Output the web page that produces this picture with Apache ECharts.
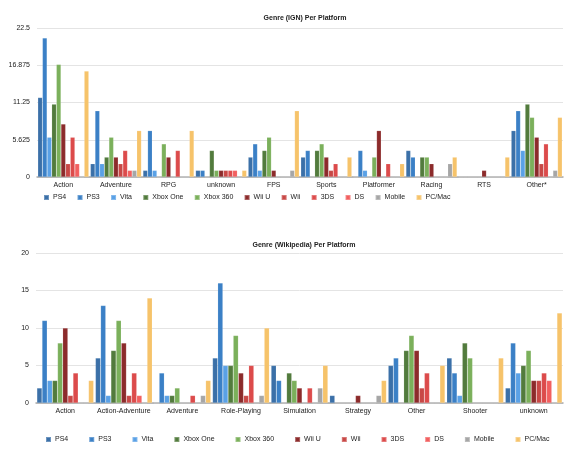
<!DOCTYPE html>
<html><head><meta charset="utf-8">
<script src="https://cdn.jsdelivr.net/npm/echarts@6/dist/echarts.min.js"></script>
<style>html,body{margin:0;padding:0;background:#fff}#c{width:580px;height:456px}</style>
</head><body><div id="c"></div>
<script>
var platforms = ['PS4','PS3','Vita','Xbox One','Xbox 360','Wii U','Wii','3DS','DS','Mobile','PC/Mac'];
var colors = ['#3b70a8','#3b80c6','#5aa1e6','#527b3d','#7bb05b','#8c2b2b','#c84846','#dc4b4b','#f25f5f','#a6a6a6','#f6c36a'];

var ignCategories = ['Action','Adventure','RPG','unknown','FPS','Sports','Platformer','Racing','RTS','Other*'];
var ignTicks = [0, 5.625, 11.25, 16.875, 22.5];
var ignPS4    = [12, 2, 1, 1, 3, 3, 0, 4, 0, 7];
var ignPS3    = [21,10, 7, 1, 5, 4, 4, 3, 0,10];
var ignVita   = [ 6, 2, 1, 0, 1, 0, 1, 0, 0, 4];
var ignXOne   = [11, 3, 0, 4, 4, 4, 0, 3, 0,11];
var ignX360   = [17, 6, 5, 1, 6, 5, 3, 3, 0, 9];
var ignWiiU   = [ 8, 3, 3, 1, 1, 3, 7, 2, 1, 6];
var ignWii    = [ 2, 2, 0, 1, 0, 1, 0, 0, 0, 2];
var ign3DS    = [ 6, 4, 4, 1, 0, 2, 2, 0, 0, 5];
var ignDS     = [ 2, 1, 0, 1, 0, 0, 0, 0, 0, 0];
var ignMobile = [ 0, 1, 0, 0, 1, 0, 0, 2, 0, 1];
var ignPC     = [16, 7, 7, 1,10, 3, 2, 3, 3, 9];

var wikiCategories = ['Action','Action-Adventure','Adventure','Role-Playing','Simulation','Strategy','Other','Shooter','unknown'];
var wikiTicks = [0, 5, 10, 15, 20];
var wikiPS4    = [ 2, 6, 0, 6, 5, 1, 5, 6, 2];
var wikiPS3    = [11,13, 4,16, 3, 0, 6, 4, 8];
var wikiVita   = [ 3, 1, 1, 5, 0, 0, 0, 1, 4];
var wikiXOne   = [ 3, 7, 1, 5, 4, 0, 7, 8, 5];
var wikiX360   = [ 8,11, 2, 9, 3, 0, 9, 6, 7];
var wikiWiiU   = [10, 8, 0, 4, 2, 1, 7, 0, 3];
var wikiWii    = [ 1, 1, 0, 1, 0, 0, 2, 0, 3];
var wiki3DS    = [ 4, 4, 1, 5, 2, 0, 4, 0, 4];
var wikiDS     = [ 0, 1, 0, 0, 0, 0, 0, 0, 3];
var wikiMobile = [ 0, 0, 1, 1, 2, 1, 0, 0, 0];
var wikiPC     = [ 3,14, 3,10, 5, 3, 5, 6,12];

var ignData = [ignPS4,ignPS3,ignVita,ignXOne,ignX360,ignWiiU,ignWii,ign3DS,ignDS,ignMobile,ignPC];
var wikiData = [wikiPS4,wikiPS3,wikiVita,wikiXOne,wikiX360,wikiWiiU,wikiWii,wiki3DS,wikiDS,wikiMobile,wikiPC];

var FONT = '"Liberation Sans", Helvetica, Arial, sans-serif';
var series = [];
platforms.forEach(function(p, i){
  series.push({name:p, type:'bar', xAxisIndex:0, yAxisIndex:0, data:ignData[i], barGap:'0%', barCategoryGap:'3%',
    itemStyle:{color:colors[i], borderColor:'rgba(255,255,255,0.25)', borderWidth:0.5}, silent:true, animation:false});
});
platforms.forEach(function(p, i){
  series.push({name:p, type:'bar', xAxisIndex:1, yAxisIndex:1, data:wikiData[i], barGap:'0%', barCategoryGap:'3%',
    itemStyle:{color:colors[i], borderColor:'rgba(255,255,255,0.25)', borderWidth:0.5}, silent:true, animation:false});
});

function xAx(cats, gi){
  return {type:'category', gridIndex:gi, data:cats,
    axisLine:{show:true, lineStyle:{color:'#a8a8a8', width:1.5}},
    axisTick:{show:false},
    axisLabel:{fontSize:7, color:'#222', fontFamily:FONT, margin:5, interval:0}};
}
function yAx(ticks, gi){
  return {type:'value', gridIndex:gi, min:ticks[0], max:ticks[ticks.length-1], interval:ticks[1]-ticks[0],
    axisLine:{show:false}, axisTick:{show:false},
    splitLine:{lineStyle:{color:'#e4e4e4', width:1}},
    axisLabel:{fontSize:7, color:'#222', fontFamily:FONT, margin:7}};
}

var chart = echarts.init(document.getElementById('c'), null, {renderer:'canvas'});
chart.setOption({
  animation:false,
  color: colors,
  title:[
    {text:'Genre (IGN) Per Platform', left:300, top:10, textAlign:'center', textStyle:{fontSize:7, fontWeight:'bold', color:'#222', fontFamily:FONT}},
    {text:'Genre (Wikipedia) Per Platform', left:299, top:237, textAlign:'center', textStyle:{fontSize:7, fontWeight:'bold', color:'#222', fontFamily:FONT}}
  ],
  legend:[
    {data:platforms, left:43, top:194, padding:0, itemWidth:5, itemHeight:5, itemGap:10.3, icon:'rect',
     textStyle:{fontSize:7, color:'#222', fontFamily:FONT, padding:[0,0,0,-1]}},
    {data:platforms, left:45, top:436, padding:0, itemWidth:5, itemHeight:5, itemGap:20, icon:'rect',
     textStyle:{fontSize:7, color:'#222', fontFamily:FONT, padding:[0,0,0,-1]}}
  ],
  grid:[
    {left:37, right:17, top:28, height:149, containLabel:false},
    {left:36, right:17, top:253, height:150, containLabel:false}
  ],
  xAxis:[xAx(ignCategories,0), xAx(wikiCategories,1)],
  yAxis:[yAx(ignTicks,0), yAx(wikiTicks,1)],
  series: series
});
</script></body></html>
